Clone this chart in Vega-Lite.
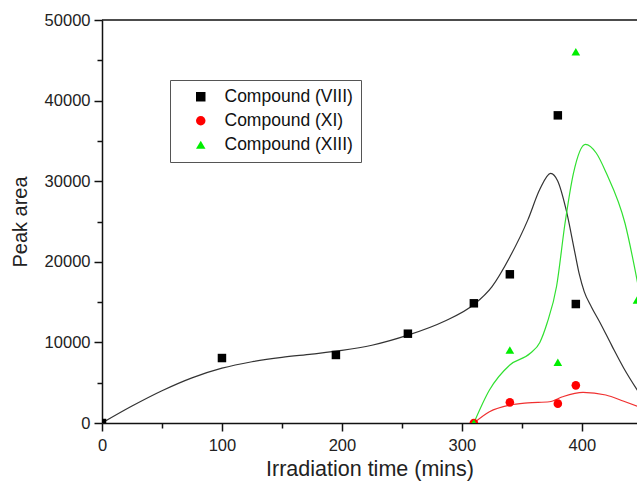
{
  "$schema": "https://vega.github.io/schema/vega-lite/v6.json",
  "autosize": {"type": "none"},
  "padding": {"left": 102, "top": 20, "right": 0, "bottom": 62},
  "width": 535,
  "height": 403,
  "background": "white",
  "config": {
    "view": {"stroke": null},
    "font": "Liberation Sans"
  },
  "datasets": {
    "pts": [
      {"series": "Compound (VIII)", "t": 0, "area": 0},
      {"series": "Compound (VIII)", "t": 100, "area": 8060},
      {"series": "Compound (VIII)", "t": 195, "area": 8440},
      {"series": "Compound (VIII)", "t": 255, "area": 11080},
      {"series": "Compound (VIII)", "t": 310, "area": 14850},
      {"series": "Compound (VIII)", "t": 340, "area": 18450},
      {"series": "Compound (VIII)", "t": 380, "area": 38170},
      {"series": "Compound (VIII)", "t": 395, "area": 14760},
      {"series": "Compound (XI)", "t": 310, "area": 0},
      {"series": "Compound (XI)", "t": 340, "area": 2560},
      {"series": "Compound (XI)", "t": 380, "area": 2400},
      {"series": "Compound (XI)", "t": 395, "area": 4670},
      {"series": "Compound (XIII)", "t": 310, "area": 0},
      {"series": "Compound (XIII)", "t": 340, "area": 9060},
      {"series": "Compound (XIII)", "t": 380, "area": 7530},
      {"series": "Compound (XIII)", "t": 395, "area": 46060},
      {"series": "Compound (XIII)", "t": 446, "area": 15260}
    ],
    "curve": [
      {"series": "Compound (VIII)", "t": 0, "area": 0},
      {"series": "Compound (VIII)", "t": 25, "area": 2100},
      {"series": "Compound (VIII)", "t": 50, "area": 4000},
      {"series": "Compound (VIII)", "t": 75, "area": 5600},
      {"series": "Compound (VIII)", "t": 100, "area": 6800},
      {"series": "Compound (VIII)", "t": 125, "area": 7600},
      {"series": "Compound (VIII)", "t": 150, "area": 8150},
      {"series": "Compound (VIII)", "t": 175, "area": 8550},
      {"series": "Compound (VIII)", "t": 200, "area": 9000},
      {"series": "Compound (VIII)", "t": 225, "area": 9650},
      {"series": "Compound (VIII)", "t": 255, "area": 10900},
      {"series": "Compound (VIII)", "t": 285, "area": 12600},
      {"series": "Compound (VIII)", "t": 310, "area": 14700},
      {"series": "Compound (VIII)", "t": 325, "area": 16900},
      {"series": "Compound (VIII)", "t": 340, "area": 20600},
      {"series": "Compound (VIII)", "t": 355, "area": 25200},
      {"series": "Compound (VIII)", "t": 365, "area": 29000},
      {"series": "Compound (VIII)", "t": 374, "area": 30980},
      {"series": "Compound (VIII)", "t": 380, "area": 30000},
      {"series": "Compound (VIII)", "t": 387, "area": 26400},
      {"series": "Compound (VIII)", "t": 394, "area": 21300},
      {"series": "Compound (VIII)", "t": 398, "area": 18400},
      {"series": "Compound (VIII)", "t": 402, "area": 16300},
      {"series": "Compound (VIII)", "t": 408, "area": 14400},
      {"series": "Compound (VIII)", "t": 415, "area": 12500},
      {"series": "Compound (VIII)", "t": 425, "area": 9600},
      {"series": "Compound (VIII)", "t": 435, "area": 6800},
      {"series": "Compound (VIII)", "t": 447, "area": 3900},
      {"series": "Compound (XI)", "t": 310, "area": 0},
      {"series": "Compound (XI)", "t": 323, "area": 1400},
      {"series": "Compound (XI)", "t": 340, "area": 2230},
      {"series": "Compound (XI)", "t": 355, "area": 2500},
      {"series": "Compound (XI)", "t": 373, "area": 2640},
      {"series": "Compound (XI)", "t": 384, "area": 3260},
      {"series": "Compound (XI)", "t": 401, "area": 3800},
      {"series": "Compound (XI)", "t": 420, "area": 3470},
      {"series": "Compound (XI)", "t": 435, "area": 2700},
      {"series": "Compound (XI)", "t": 447, "area": 2050},
      {"series": "Compound (XIII)", "t": 310, "area": 0},
      {"series": "Compound (XIII)", "t": 323, "area": 4090},
      {"series": "Compound (XIII)", "t": 340, "area": 7200},
      {"series": "Compound (XIII)", "t": 357, "area": 8650},
      {"series": "Compound (XIII)", "t": 365, "area": 10000},
      {"series": "Compound (XIII)", "t": 371, "area": 12370},
      {"series": "Compound (XIII)", "t": 379, "area": 17000},
      {"series": "Compound (XIII)", "t": 386, "area": 24780},
      {"series": "Compound (XIII)", "t": 393, "area": 30980},
      {"series": "Compound (XIII)", "t": 403, "area": 34580},
      {"series": "Compound (XIII)", "t": 412, "area": 33500},
      {"series": "Compound (XIII)", "t": 420.5, "area": 30980},
      {"series": "Compound (XIII)", "t": 436, "area": 24780},
      {"series": "Compound (XIII)", "t": 447, "area": 17000}
    ]
  },
  "layer": [
    {
      "data": {"name": "curve"},
      "mark": {"type": "line", "interpolate": "monotone", "strokeWidth": 1.2, "clip": true},
      "encoding": {
        "x": {
          "field": "t", "type": "quantitative",
          "scale": {"domain": [0, 446], "nice": false, "zero": false},
          "axis": {
            "title": "Irradiation time (mins)",
            "values": [0, 50, 100, 150, 200, 250, 300, 350, 400],
            "labelExpr": "datum.value % 100 === 0 ? datum.label : ''",
            "format": "d",
            "grid": false,
            "labelFlush": false,
            "domainColor": "#111", "domainWidth": 1.5,
            "tickColor": "#111", "tickWidth": 1.5,
            "tickSize": {"condition": {"test": "datum.value % 100 === 0", "value": 8}, "value": 5},
            "labelFontSize": 16.5, "labelColor": "#222", "labelPadding": 6,
            "titleFontSize": 21.5, "titleFontWeight": "normal", "titleColor": "#222", "titlePadding": 5
          }
        },
        "y": {
          "field": "area", "type": "quantitative",
          "scale": {"domain": [0, 50000], "nice": false},
          "axis": {
            "title": "Peak area",
            "values": [0, 5000, 10000, 15000, 20000, 25000, 30000, 35000, 40000, 45000, 50000],
            "labelExpr": "datum.value % 10000 === 0 ? datum.label : ''",
            "format": "d",
            "grid": false,
            "labelFlush": false,
            "domainColor": "#111", "domainWidth": 1.5,
            "tickColor": "#111", "tickWidth": 1.5,
            "tickSize": {"condition": {"test": "datum.value % 10000 === 0", "value": 8}, "value": 5},
            "labelFontSize": 16.5, "labelColor": "#222", "labelPadding": 4,
            "titleFontSize": 20, "titleFontWeight": "normal", "titleColor": "#222", "titlePadding": 14
          }
        },
        "stroke": {
          "field": "series", "type": "nominal",
          "scale": {"range": ["#333333", "#f03030", "#30e030"]},
          "legend": null
        },
        "detail": {"field": "series"}
      }
    },
    {
      "data": {"name": "pts"},
      "mark": {"type": "point", "filled": true, "opacity": 1, "clip": true},
      "encoding": {
        "x": {"field": "t", "type": "quantitative"},
        "y": {"field": "area", "type": "quantitative"},
        "size": {
          "field": "series", "type": "nominal",
          "scale": {"range": [72, 75, 115]},
          "legend": null
        },
        "color": {
          "field": "series", "type": "nominal",
          "scale": {"domain": ["Compound (VIII)", "Compound (XI)", "Compound (XIII)"], "range": ["#000000", "#ff0000", "#00ee00"]},
          "legend": {
            "title": null, "orient": "none", "legendX": 68, "legendY": 60,
            "strokeColor": "#555", "fillColor": "white", "padding": 8,
            "labelFontSize": 17.5, "labelColor": "#111", "symbolSize": 90,
            "rowPadding": 5, "symbolOffset": 14, "labelOffset": 15
          }
        },
        "shape": {
          "field": "series", "type": "nominal",
          "scale": {"domain": ["Compound (VIII)", "Compound (XI)", "Compound (XIII)"], "range": ["square", "circle", "triangle-up"]},
          "legend": {
            "title": null, "orient": "none", "legendX": 68, "legendY": 60,
            "strokeColor": "#555", "fillColor": "white", "padding": 8,
            "labelFontSize": 17.5, "labelColor": "#111", "symbolSize": 90,
            "rowPadding": 5, "symbolOffset": 14, "labelOffset": 15
          }
        }
      }
    },
    {
      "data": {"values": [{"y": 50000}]},
      "mark": {"type": "rule", "color": "#111", "strokeWidth": 1.5},
      "encoding": {"y": {"field": "y", "type": "quantitative"}}
    }
  ]
}
